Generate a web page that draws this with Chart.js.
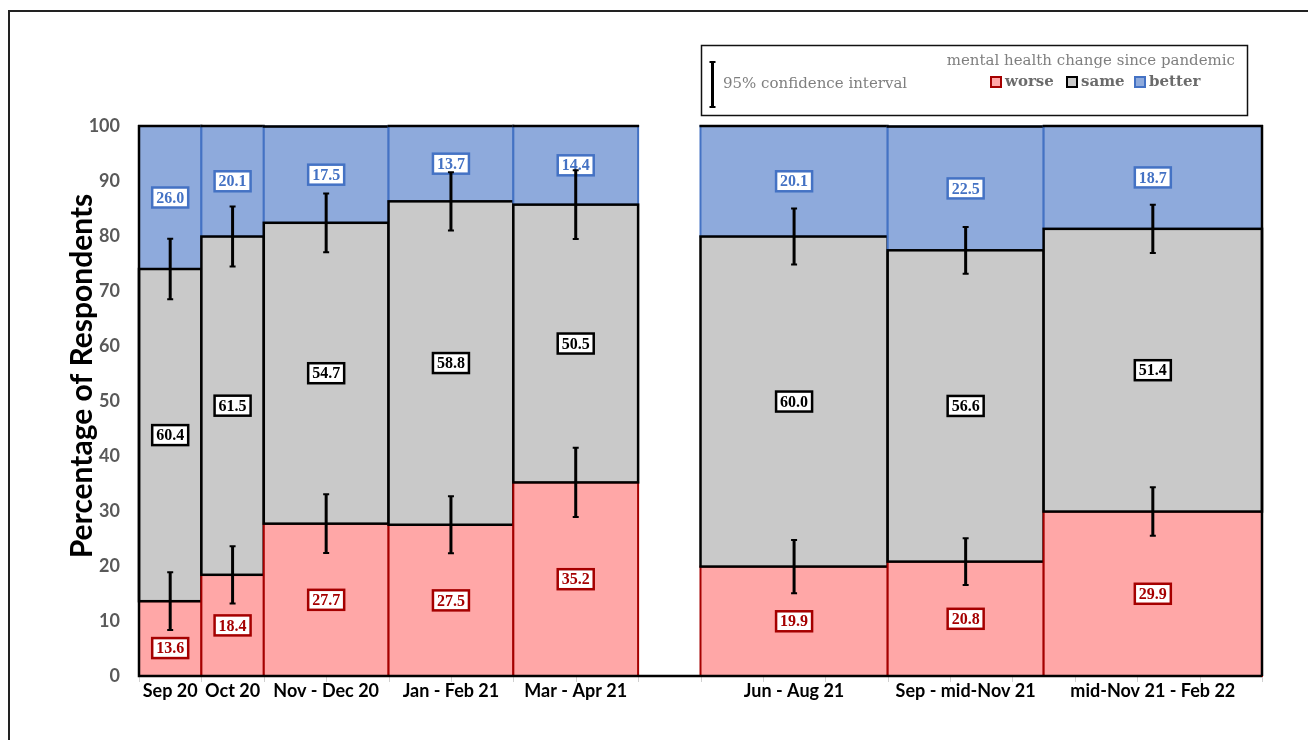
<!DOCTYPE html>
<html>
<head>
<meta charset="utf-8">
<script src="https://cdn.jsdelivr.net/npm/chart.js@4.4.1/dist/chart.umd.min.js"></script>
<style>
	html, body { margin: 0; padding: 0; background: #fff; }
	#wrap { width: 1308px; height: 740px; position: relative; overflow: hidden; }
</style>
</head>
<body>
<div id="wrap"><canvas id="mh-chart" width="1308" height="740"></canvas></div>
<script>
// survey periods, x extent in months since Sep 2020
const periods = ["Sep 20", "Oct 20", "Nov - Dec 20", "Jan - Feb 21", "Mar - Apr 21", "Jun - Aug 21", "Sep - mid-Nov 21", "mid-Nov 21 - Feb 22"];
const periodStart = [0, 1, 2, 4, 6, 9, 12, 14.5];
const periodEnd = [1, 2, 4, 6, 8, 12, 14.5, 18];

// percentage of respondents
const worse = [13.6, 18.4, 27.7, 27.5, 35.2, 19.9, 20.8, 29.9];
const same = [60.4, 61.5, 54.7, 58.8, 50.5, 60.0, 56.6, 51.4];
const better = [26.0, 20.1, 17.5, 13.7, 14.4, 20.1, 22.5, 18.7];

// 95% CI half widths (worse boundary, worse+same boundary)
const worseCI = [5.25, 5.2, 5.35, 5.2, 6.3, 4.85, 4.25, 4.4];
const sameCI = [5.5, 5.45, 5.35, 5.3, 6.25, 5.1, 4.25, 4.4];

const yTicks = [0, 10, 20, 30, 40, 50, 60, 70, 80, 90, 100];
// month grid for the small tick marks under the axis
const monthTicks = [0, 1, 2, 3, 4, 5, 6, 7, 8, 9, 10, 11, 12, 13, 14, 15, 16, 17, 18];

const COLORS = {
	worse: { fill: "#ffa7a7", line: "#a50000", text: "#a50000" },
	same: { fill: "#c9c9c9", line: "#000000", text: "#000000" },
	better: { fill: "#8eaadc", line: "#4472c4", text: "#4472c4" }
};

const centers = periodStart.map((s, i) => (s + periodEnd[i]) / 2);

function drawLabel(ctx, text, cx, cy, color) {
	ctx.font = "bold 16px 'Liberation Serif'";
	let w = ctx.measureText(text).width + 8;
	let h = 20;
	ctx.fillStyle = "#fff";
	ctx.fillRect(cx - w / 2, cy - h / 2, w, h);
	ctx.strokeStyle = color;
	ctx.lineWidth = 2.5;
	ctx.strokeRect(cx - w / 2, cy - h / 2, w, h);
	ctx.fillStyle = color;
	ctx.textAlign = "center";
	ctx.textBaseline = "middle";
	ctx.fillText(text, cx, cy + 1);
}

function drawErrorBar(ctx, x, y1, y2) {
	ctx.strokeStyle = "#000";
	ctx.lineWidth = 3;
	ctx.beginPath();
	ctx.moveTo(x, y1);
	ctx.lineTo(x, y2);
	ctx.stroke();
	ctx.lineWidth = 2;
	ctx.beginPath();
	ctx.moveTo(x - 3, y1);
	ctx.lineTo(x + 3, y1);
	ctx.moveTo(x - 3, y2);
	ctx.lineTo(x + 3, y2);
	ctx.stroke();
}

const mosaicPlugin = {
	id: "mosaic",
	beforeDraw(chart) {
		let ctx = chart.ctx;
		ctx.save();
		ctx.fillStyle = "#fff";
		ctx.fillRect(0, 0, chart.width, chart.height);
		ctx.strokeStyle = "#222";
		ctx.lineWidth = 2;
		ctx.strokeRect(9, 11, chart.width + 20, chart.height + 20);
		ctx.restore();
	},
	afterDatasetsDraw(chart) {
		let ctx = chart.ctx;
		let xs = chart.scales.x, ys = chart.scales.y;
		ctx.save();

		// small month tick marks under the axis
		ctx.strokeStyle = "#d0d0d0";
		ctx.lineWidth = 1;
		monthTicks.forEach(m => {
			let x = Math.round(xs.getPixelForValue(m)) + 0.5;
			ctx.beginPath();
			ctx.moveTo(x, ys.bottom);
			ctx.lineTo(x, ys.bottom + 6);
			ctx.stroke();
		});

		periods.forEach((p, i) => {
			let x0 = xs.getPixelForValue(periodStart[i]);
			let x1 = xs.getPixelForValue(periodEnd[i]);
			let yW = ys.getPixelForValue(worse[i]);
			let yS = ys.getPixelForValue(worse[i] + same[i]);
			let yB = ys.getPixelForValue(Math.min(100, worse[i] + same[i] + better[i]));
			let y0 = ys.getPixelForValue(0);

			// better
			ctx.fillStyle = COLORS.better.fill;
			ctx.fillRect(x0, yB, x1 - x0, yS - yB);
			ctx.strokeStyle = COLORS.better.line;
			ctx.lineWidth = 2;
			ctx.strokeRect(x0, yB, x1 - x0, yS - yB);
			// worse
			ctx.fillStyle = COLORS.worse.fill;
			ctx.fillRect(x0, yW, x1 - x0, y0 - yW);
			ctx.strokeStyle = COLORS.worse.line;
			ctx.strokeRect(x0, yW, x1 - x0, y0 - yW);
			// same
			ctx.fillStyle = COLORS.same.fill;
			ctx.fillRect(x0, yS, x1 - x0, yW - yS);
			ctx.strokeStyle = COLORS.same.line;
			ctx.lineWidth = 2.5;
			ctx.strokeRect(x0, yS, x1 - x0, yW - yS);
			// top edge
			ctx.strokeStyle = "#000";
			ctx.lineWidth = 2.5;
			ctx.beginPath();
			ctx.moveTo(x0 - 1, yB);
			ctx.lineTo(x1 + 1, yB);
			ctx.stroke();
		});

		// plot outline: axes and right edge
		let left = xs.getPixelForValue(0), right = xs.getPixelForValue(periodEnd[periodEnd.length - 1]);
		let top = ys.getPixelForValue(100), bottom = ys.getPixelForValue(0);
		ctx.strokeStyle = "#000";
		ctx.lineWidth = 2.5;
		ctx.beginPath();
		ctx.moveTo(left, top - 1);
		ctx.lineTo(left, bottom);
		ctx.lineTo(right, bottom);
		ctx.moveTo(right, bottom);
		ctx.lineTo(right, top - 1);
		ctx.stroke();

		// value labels
		periods.forEach((p, i) => {
			let cx = xs.getPixelForValue(centers[i]);
			let bTop = Math.min(100, worse[i] + same[i] + better[i]);
			drawLabel(ctx, better[i].toFixed(1), cx, ys.getPixelForValue((worse[i] + same[i] + bTop) / 2), COLORS.better.text);
			drawLabel(ctx, same[i].toFixed(1), cx, ys.getPixelForValue(worse[i] + same[i] / 2), COLORS.same.text);
			let wy = ys.getPixelForValue(worse[i] / 2);
			let ciLow = ys.getPixelForValue(worse[i] - worseCI[i]);
			if (wy - 10 < ciLow + 6) wy = ciLow + 18;
			drawLabel(ctx, worse[i].toFixed(1), cx, wy, COLORS.worse.text);
		});

		// confidence intervals
		periods.forEach((p, i) => {
			let cx = xs.getPixelForValue(centers[i]);
			drawErrorBar(ctx, cx, ys.getPixelForValue(worse[i] + worseCI[i]), ys.getPixelForValue(worse[i] - worseCI[i]));
			let s = worse[i] + same[i];
			drawErrorBar(ctx, cx, ys.getPixelForValue(s + sameCI[i]), ys.getPixelForValue(s - sameCI[i]));
		});

		// y axis title
		ctx.save();
		ctx.translate(82, 376);
		ctx.rotate(-Math.PI / 2);
		ctx.fillStyle = "#000";
		ctx.font = "bold 30px Lato";
		ctx.textAlign = "center";
		ctx.textBaseline = "middle";
		ctx.fillText("Percentage of Respondents", 0, 0);
		ctx.restore();

		ctx.restore();
	},
	afterDraw(chart) {
		let ctx = chart.ctx;
		ctx.save();
		// legend box
		ctx.strokeStyle = "#111";
		ctx.lineWidth = 1.5;
		ctx.strokeRect(701.5, 45.5, 546, 70);
		drawErrorBar(ctx, 712.5, 62, 107);
		ctx.font = "15px 'DejaVu Serif'";
		ctx.fillStyle = "#7f7f7f";
		ctx.textBaseline = "middle";
		ctx.textAlign = "left";
		ctx.fillText("95% confidence interval", 723, 84);
		ctx.textAlign = "right";
		ctx.fillText("mental health change since pandemic", 1235, 61);

		let items = [
			{ label: "worse", c: COLORS.worse, x: 991 },
			{ label: "same", c: COLORS.same, x: 1067 },
			{ label: "better", c: COLORS.better, x: 1135 }
		];
		ctx.font = "bold 15px 'DejaVu Serif'";
		ctx.textAlign = "left";
		items.forEach(it => {
			ctx.fillStyle = it.c.fill;
			ctx.fillRect(it.x, 77, 10, 10);
			ctx.strokeStyle = it.c.line;
			ctx.lineWidth = 2;
			ctx.strokeRect(it.x, 77, 10, 10);
			ctx.fillStyle = "#6b6b6b";
			ctx.fillText(it.label, it.x + 14, 82);
		});
		ctx.restore();
	}
};

let ctx = document.getElementById("mh-chart").getContext("2d");
let chart = new Chart(ctx, {
	type: "scatter",
	data: {
		datasets: [
			{ label: "worse", data: centers.map((c, i) => ({ x: c, y: worse[i] })), pointRadius: 0 },
			{ label: "same", data: centers.map((c, i) => ({ x: c, y: worse[i] + same[i] })), pointRadius: 0 },
			{ label: "better", data: centers.map((c, i) => ({ x: c, y: 100 })), pointRadius: 0 }
		]
	},
	options: {
		responsive: false,
		animation: false,
		layout: { padding: { top: 126, right: 46, left: 0, bottom: 0 } },
		plugins: {
			legend: { display: false },
			tooltip: { enabled: false }
		},
		scales: {
			x: {
				type: "linear",
				min: 0,
				max: 18,
				afterBuildTicks: s => { s.ticks = centers.map(v => ({ value: v })); },
				afterFit: s => { s.height = 64; },
				ticks: {
					autoSkip: false,
					maxRotation: 0,
					padding: 4,
					color: "#000",
					font: { family: "Lato", size: 18, weight: "bold" },
					callback: (v, i) => periods[i]
				},
				grid: { drawOnChartArea: false, drawTicks: false },
				border: { display: false }
			},
			y: {
				min: 0,
				max: 100,
				afterBuildTicks: s => { s.ticks = yTicks.map(v => ({ value: v })); },
				afterFit: s => { s.width = 139; },
				ticks: {
					padding: 19,
					color: "#595959",
					font: { family: "Lato", size: 18, weight: "bold" }
				},
				grid: { display: false, drawTicks: false },
				border: { display: false }
			}
		}
	},
	plugins: [mosaicPlugin]
});
</script>
</body>
</html>
